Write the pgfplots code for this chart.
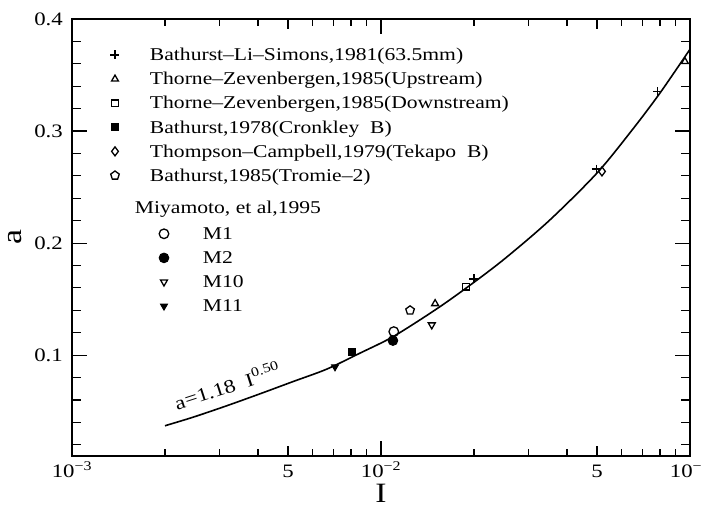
\documentclass[border=0pt]{standalone}
\usepackage{fontspec}
\setmainfont{Liberation Serif}[FakeStretch=1.2]
\usepackage{pgfplots}
\pgfplotsset{compat=1.18}
\usetikzlibrary{plotmarks}

\newcommand{\fs}{\fontsize{18bp}{21bp}\selectfont}
\newcommand{\ft}{\fontsize{19bp}{22bp}\selectfont}

\pgfplotsset{
  mleg/.style={legend image code/.code={\path[draw=none,fill=none] (-10bp,-6bp) rectangle (35bp,6bp); \draw[##1, overlay] plot coordinates {(49bp,0bp)};}},
}

\begin{document}
\begin{tikzpicture}
\begin{axis}[scale only axis, width=618bp, height=437bp,
  xmode=log, xmin=0.001, xmax=0.1, ymin=0.01, ymax=0.4,
  name=ax,
  legend cell align=left,
  legend style={draw=none, fill=none, inner sep=0pt, outer sep=0pt,
     row sep=7.7bp, column sep=0pt, font=\fs,
     nodes={inner sep=0pt, outer sep=0pt, text height=14bp, text depth=2.4bp},
     at={(0.0534,0.9364)}, anchor=north west},
  legend image code/.code={\path[draw=none,fill=none] (-10bp,-6bp) rectangle (35bp,6bp); \draw[#1] plot coordinates {(0bp,0bp)};},
  axis line style={line width=1.8bp},
  major tick length=0pt, minor tick length=0pt,
  xtick={0.001,0.005,0.01,0.05,0.1},
  xticklabels={10\textsuperscript{−3},5,10\textsuperscript{−2},5,10\textsuperscript{−1}},
  ytick={0.1,0.2,0.3,0.4}, yticklabels={0.1,0.2,0.3,0.4},
  tick label style={font=\ft, inner sep=0pt},
  xticklabel style={anchor=north, text height=13.5bp, text depth=0bp, yshift=-8bp},
  yticklabel style={anchor=east, xshift=-9bp},
  xlabel={I}, ylabel={a},
  label style={font=\fontsize{28bp}{30bp}\selectfont, inner sep=0pt},
  xlabel style={at={(axis description cs:0.5,0)}, anchor=base, yshift=-46bp},
  ylabel style={at={([xshift=-57bp]axis description cs:0,0.5)}, anchor=center},
]
% tick marks (inside, on all four sides)
\pgfplotsinvokeforeach{0.001,0.01,0.1}{
  \draw[line width=1.2bp] (axis cs:#1,0.01) -- ([yshift=15bp]axis cs:#1,0.01);
  \draw[line width=1.2bp] (axis cs:#1,0.4) -- ([yshift=-15bp]axis cs:#1,0.4);}
\pgfplotsinvokeforeach{0.005,0.05}{
  \draw[line width=1.2bp] (axis cs:#1,0.01) -- ([yshift=10bp]axis cs:#1,0.01);
  \draw[line width=1.2bp] (axis cs:#1,0.4) -- ([yshift=-10bp]axis cs:#1,0.4);}
\pgfplotsinvokeforeach{0.002,0.003,0.004,0.006,0.007,0.008,0.009,0.02,0.03,0.04,0.06,0.07,0.08,0.09}{
  \draw[line width=1.1bp] (axis cs:#1,0.01) -- ([yshift=7bp]axis cs:#1,0.01);
  \draw[line width=1.1bp] (axis cs:#1,0.4) -- ([yshift=-7bp]axis cs:#1,0.4);}
\pgfplotsinvokeforeach{0.1,0.2,0.3}{
  \draw[line width=1.2bp] (axis cs:0.001,#1) -- ([xshift=15bp]axis cs:0.001,#1);
  \draw[line width=1.2bp] (axis cs:0.1,#1) -- ([xshift=-15bp]axis cs:0.1,#1);}
\pgfplotsinvokeforeach{0.02,0.04,0.06,0.08,0.12,0.14,0.16,0.18,0.22,0.24,0.26,0.28,0.32,0.34,0.36,0.38}{
  \draw[line width=1.1bp] (axis cs:0.001,#1) -- ([xshift=9bp]axis cs:0.001,#1);
  \draw[line width=1.1bp] (axis cs:0.1,#1) -- ([xshift=-9bp]axis cs:0.1,#1);}
\addplot[only marks, mark=+, mark size=4.5bp, line width=1.3bp]
  coordinates {(0.0200,0.168) (0.0497,0.266) (0.0787,0.335)};
\addlegendentry{Bathurst–Li–Simons,1981(63.5mm)}
\addplot[only marks, mark=triangle, mark size=4bp, line width=1.3bp]
  coordinates {(0.01497,0.146) (0.0963,0.362)};
\addlegendentry{Thorne–Zevenbergen,1985(Upstream)}
\addplot[only marks, mark=square, mark size=3.3bp, line width=1.3bp]
  coordinates {(0.01884,0.161)};
\addlegendentry{Thorne–Zevenbergen,1985(Downstream)}
\addplot[only marks, mark=square*, mark size=3.5bp, line width=1bp, mark options={fill=black}]
  coordinates {(0.00806,0.103)};
\addlegendentry{Bathurst,1978(Cronkley\ \ B)}
\addplot[only marks, mark=diamond, mark size=4.5bp, line width=1.3bp]
  coordinates {(0.0519,0.264)};
\addlegendentry{Thompson–Campbell,1979(Tekapo\ \ B)}
\addplot[only marks, mark=pentagon, mark size=4.5bp, line width=1.3bp]
  coordinates {(0.01242,0.140)};
\addlegendentry{Bathurst,1985(Tromie–2)}
\addlegendimage{legend image code/.code={\path[draw=none,fill=none] (0bp,-10.1bp) rectangle (1bp,16.4bp);}}
\addlegendentry{\hspace*{-15bp}Miyamoto, et al,1995}
\addplot[only marks, mark=o, mark size=4.8bp, line width=1.3bp, mleg]
  coordinates {(0.01100,0.121)};
\addlegendentry{\hspace*{53bp}M1}
\addplot[only marks, mark=*, mark size=4.8bp, line width=1bp, mark options={fill=black}, mleg]
  coordinates {(0.01093,0.113)};
\addlegendentry{\hspace*{53bp}M2}
\addplot[only marks, mark=triangle, mark size=4bp, line width=1.3bp, mark options={rotate=180}, mleg]
  coordinates {(0.01460,0.127)};
\addlegendentry{\hspace*{53bp}M10}
\addplot[only marks, mark=triangle*, mark size=4bp, line width=1bp, mark options={rotate=180, fill=black}, mleg]
  coordinates {(0.00710,0.0896)};
\addlegendentry{\hspace*{53bp}M11}
\addplot[line width=1.6bp, smooth, forget plot] coordinates {
 (0.00200,0.0370) (0.00247,0.0447) (0.003166,0.0548) (0.004059,0.0655)
 (0.005202,0.0765) (0.006672,0.0875) (0.008551,0.1018) (0.010958,0.1166)
 (0.01500,0.1405) (0.01900,0.1605) (0.02500,0.1855) (0.03500,0.2200)
 (0.05000,0.2625) (0.06500,0.3010) (0.08000,0.3340) (0.10000,0.3730)};
\node[rotate=18, anchor=base west, inner sep=0pt, font=\fontsize{19bp}{22bp}\selectfont] at (rel axis cs:0.1699,0.105) {a=1.18\ \ I\textsuperscript{0.50}};
\end{axis}
\pgfresetboundingbox
\path[use as bounding box] ([shift={(-72bp,-51bp)}]ax.south west) rectangle ([shift={(630bp,456bp)}]ax.south west);
\end{tikzpicture}
\end{document}
